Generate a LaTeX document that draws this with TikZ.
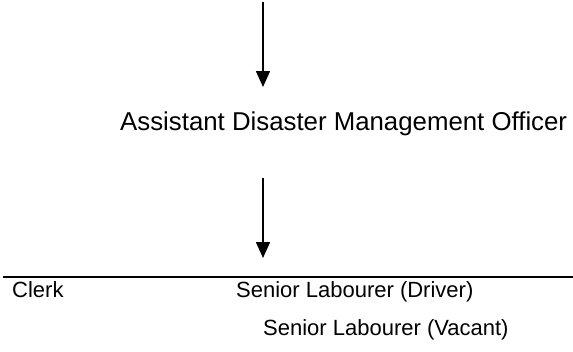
\documentclass[tikz,border=0pt]{standalone}
\usepackage{fontspec}
\setmainfont{Liberation Sans}
\usetikzlibrary{arrows.meta}
\begin{document}
\begin{tikzpicture}[x=1pt,y=-1pt,
  lbl/.style={anchor=base west,inner sep=0pt,font=\fontsize{22}{26}\selectfont},
  biglbl/.style={anchor=base west,inner sep=0pt,font=\fontsize{25.8}{30}\selectfont},
  arr/.style={line width=1.6pt,-{Triangle[width=14pt,length=16pt]}},
  hline/.style={line width=1.6pt}]
\useasboundingbox (0,0) rectangle (573,351);
\coordinate (a1s) at (263,2);
\coordinate (a1e) at (263,87);
\node[biglbl] (ado) at (120,130) {Assistant Disaster Management Officer};
\coordinate (a2s) at (263,178);
\coordinate (a2e) at (263,258);
\coordinate (ls) at (3,277);
\coordinate (le) at (573,277);
\node[lbl] (clerk) at (12,297) {Clerk};
\node[lbl] (driver) at (236,297) {Senior Labourer (Driver)};
\node[lbl] (vacant) at (263,335) {Senior Labourer (Vacant)};
\draw[arr] (a1s) -- (a1e);
\draw[arr] (a2s) -- (a2e);
\draw[hline] (ls) -- (le);
\end{tikzpicture}
\end{document}
